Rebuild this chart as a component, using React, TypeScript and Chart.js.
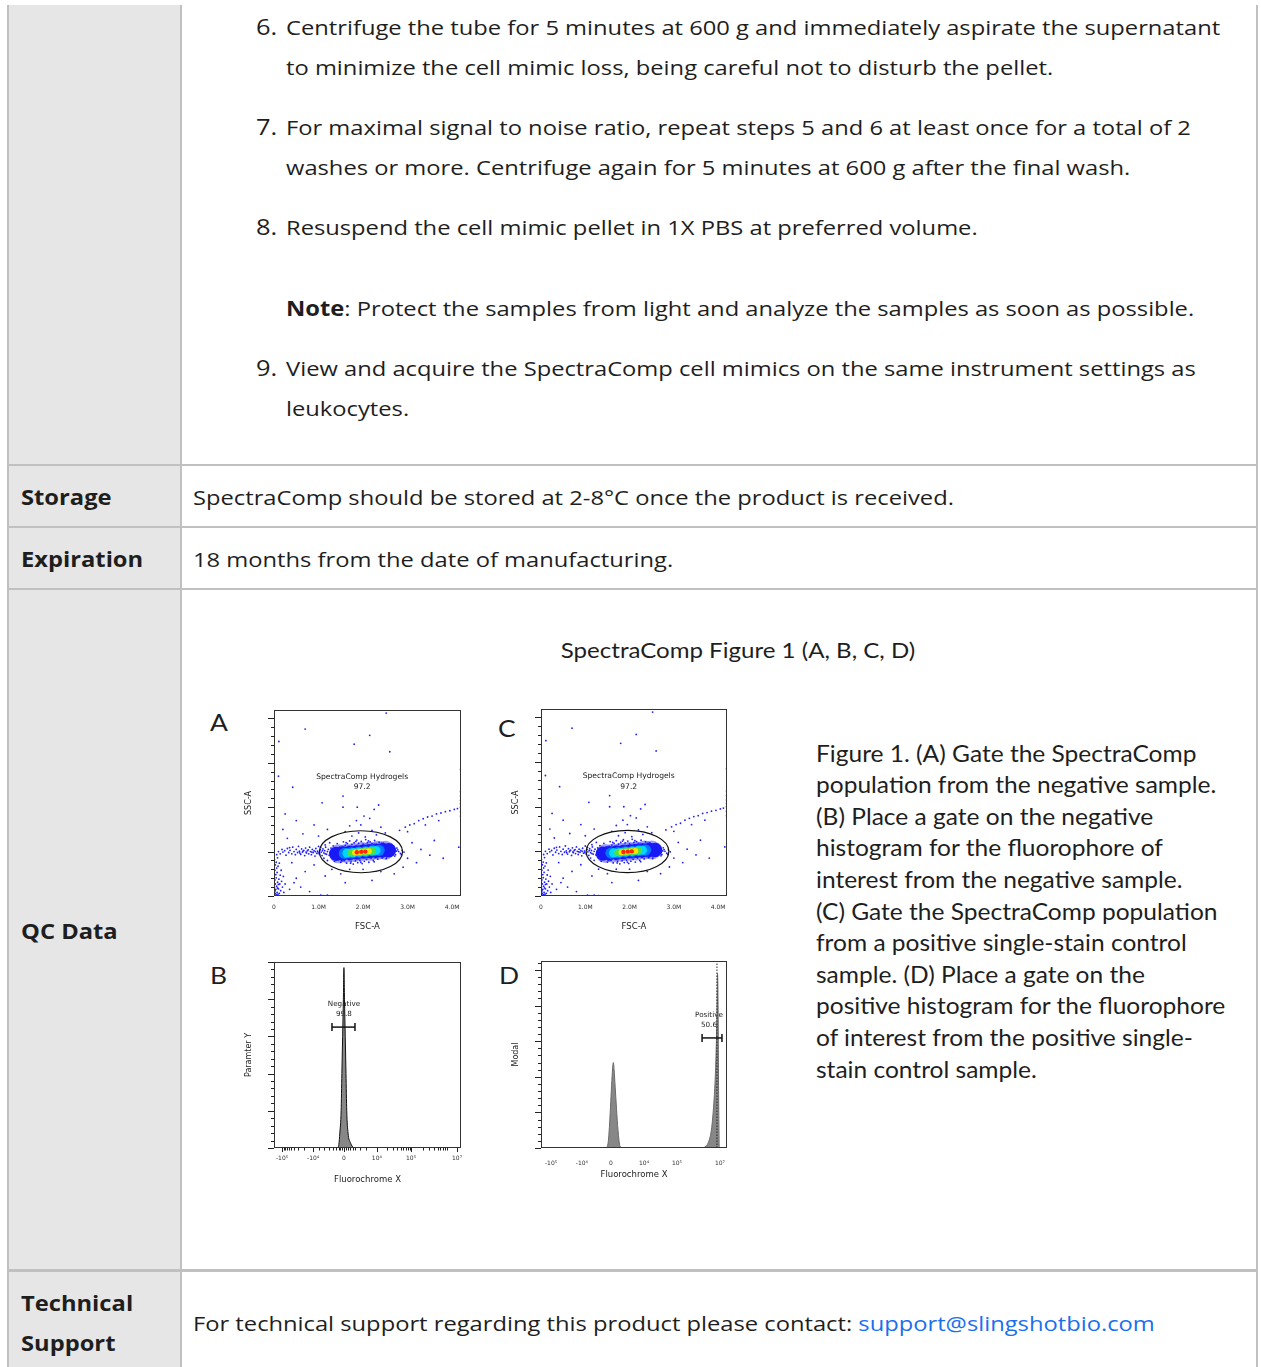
import React, { useEffect, useRef } from "react";
import { Chart, registerables } from "chart.js";
Chart.register(...registerables);

// ---------------- DATA ----------------
// Scatter (FSC-A vs SSC-A), values in millions
const fscTicks = [0, 1, 2, 3, 4];
const fscTickLabels = ["0", "1.0M", "2.0M", "3.0M", "4.0M"];
const sscMajorTicks = [0, 1, 2, 3, 4];
const sscMinorTicks = [0.2, 0.4, 0.6, 0.8, 1.2, 1.4, 1.6, 1.8, 2.2, 2.4, 2.6, 2.8, 3.2, 3.4, 3.6, 3.8];

const streakPts = [[0.01,0.02],[0.03,0.06],[0.02,0.11],[0.05,0.03],[0.07,0.08],[0.04,0.15],[0.01,0.2],[0.06,0.22],[0.09,0.04],[0.03,0.27],[0.08,0.31],[0.02,0.36],[0.05,0.41],[0.1,0.16],[0.12,0.06],[0.04,0.48],[0.07,0.53],[0.02,0.58],[0.11,0.38],[0.06,0.63],[0.13,0.27],[0.03,0.7],[0.09,0.67],[0.15,0.12],[0.05,0.76],[0.14,0.47],[0.17,0.33],[0.01,0.82],[0.12,0.74],[0.19,0.2],[0.08,0.86],[0.16,0.58],[0.22,0.08],[0.21,0.44],[0.25,0.27],[0.06,0.93],[0.02,0.13],[0.04,0.01],[0.08,0.18],[0.1,0.26]];
const tailPts = [[0.1,1.0],[0.14,0.95],[0.18,1.05],[0.2,0.99],[0.24,1.02],[0.27,0.92],[0.3,1.07],[0.33,0.98],[0.36,1.03],[0.4,0.95],[0.42,1.1],[0.45,1.0],[0.48,0.93],[0.5,1.05],[0.53,0.98],[0.55,1.12],[0.57,1.01],[0.6,0.94],[0.62,1.06],[0.64,0.99],[0.67,1.03],[0.69,0.91],[0.71,1.08],[0.73,0.97],[0.75,1.02],[0.78,0.95],[0.8,1.1],[0.82,1.0],[0.84,0.93],[0.86,1.05],[0.88,0.98],[0.9,1.02],[0.92,0.9],[0.94,1.07],[0.96,0.96],[0.98,1.01],[1.0,1.12],[1.02,0.94],[1.04,1.04],[1.06,0.99],[1.08,0.91],[1.1,1.06],[1.12,0.97],[1.14,1.02],[1.16,1.1],[1.18,0.94],[1.2,1.0],[1.22,1.05],[1.24,0.92],[1.26,0.98],[1.28,1.08],[1.3,1.01],[0.58,0.97],[0.77,1.04],[0.85,0.99],[0.99,0.97],[1.05,1.09],[1.15,0.95],[0.65,1.01],[0.35,1.09],[0.93,1.0],[1.09,1.02],[0.72,0.99],[1.27,0.95]];
const haloPts = [[1.12,0.85],[1.15,1.15],[1.2,0.8],[1.25,1.2],[1.3,0.86],[1.33,1.13],[1.36,0.78],[1.38,1.04],[1.4,0.9],[1.42,1.18],[1.45,0.83],[1.47,1.1],[1.5,0.76],[1.52,1.06],[1.54,0.87],[1.56,1.22],[1.58,0.8],[1.6,1.14],[1.63,0.74],[1.65,1.18],[1.68,0.82],[1.7,1.24],[1.73,0.77],[1.75,1.16],[1.78,0.72],[1.8,1.2],[1.83,0.79],[1.86,1.26],[1.88,0.75],[1.9,1.19],[1.93,0.8],[1.96,1.23],[1.98,0.73],[2.0,1.17],[2.03,0.78],[2.06,1.27],[2.08,0.82],[2.1,1.2],[2.13,0.76],[2.16,1.22],[2.18,0.85],[2.2,1.18],[2.23,0.8],[2.26,1.25],[2.28,0.87],[2.3,1.16],[2.33,0.83],[2.36,1.21],[2.38,0.9],[2.4,1.14],[2.43,0.86],[2.46,1.19],[2.48,0.92],[2.5,1.12],[2.53,0.88],[2.56,1.16],[2.58,0.95],[2.6,1.09],[2.63,0.9],[2.66,1.13],[2.68,0.98],[2.7,1.05],[2.73,0.93],[2.76,1.08],[2.8,1.0],[2.84,0.96],[2.88,1.03],[2.92,0.99],[1.35,0.97],[1.43,1.0],[2.65,1.0],[2.75,1.01],[1.48,0.95],[2.55,1.02],[1.4,1.08],[1.52,0.8],[1.62,1.2],[1.72,0.74],[1.84,1.23],[1.95,0.76],[2.12,1.24],[2.25,0.77],[2.42,1.18],[2.52,0.84],[2.62,1.12],[2.71,0.9],[1.32,0.93],[1.37,1.09],[2.78,1.04],[2.86,0.93]];
const sparsePts = [[1.75,1.35],[1.9,1.42],[2.05,1.33],[2.2,1.48],[1.95,1.6],[2.15,1.75],[1.85,1.7],[2.3,1.38],[2.4,1.55],[1.6,1.45],[2.02,1.8],[1.7,1.58],[2.5,1.42],[2.25,1.95],[1.55,2.0],[2.35,2.05],[1.08,2.1],[1.55,2.25],[1.87,2.0],[0.42,2.45],[0.1,2.7],[2.6,3.25],[1.8,3.42],[2.15,3.62],[2.52,4.12],[0.7,3.76],[0.11,3.48],[4.19,2.85],[0.9,1.6],[0.5,1.7],[0.3,1.3],[0.65,1.4],[1.2,1.5],[0.25,1.85],[1.0,1.35],[3.1,1.2],[3.3,1.05],[3.5,0.92],[3.0,0.85],[3.2,0.75],[2.9,0.65],[3.8,0.85],[4.15,1.1],[2.7,0.5],[2.4,0.55],[2.0,0.6],[1.7,0.6],[1.5,0.5],[1.3,0.6],[1.15,0.45],[0.9,0.7],[0.7,0.55],[0.5,0.4],[0.4,0.75],[0.35,0.15],[0.6,0.2],[0.8,0.1],[1.05,0.02],[1.1,0.01],[1.2,0.02],[1.3,0.01],[0.45,0.3],[2.2,0.35],[1.6,0.3],[0.2,1.5],[3.6,1.25]];
const rightStreakPts = [[2.82,1.48],[2.95,1.55],[3.05,1.6],[3.15,1.63],[3.25,1.7],[3.35,1.74],[3.45,1.78],[3.55,1.8],[3.65,1.85],[3.75,1.87],[3.85,1.9],[3.95,1.92],[4.05,1.95],[4.12,1.97],[4.19,1.9],[4.19,2.0],[4.19,2.08],[4.19,2.15],[4.19,2.25],[4.19,2.35],[4.19,1.8],[3.0,1.45],[3.4,1.6],[3.7,1.7]];
// density core levels (blue -> red)
const coreBlueOuter = [[1.45,0.95],[1.62,0.96],[1.8,0.98],[1.98,1.0],[2.16,1.01],[2.34,1.03],[2.5,1.03]];
const coreBlue = [[1.4,0.95],[1.55,0.96],[1.7,0.97],[1.85,0.98],[2.0,1.0],[2.15,1.01],[2.3,1.02],[2.45,1.03],[2.58,1.03]];
const coreLightBlue = [[1.58,0.96],[1.74,0.97],[1.9,0.99],[2.06,1.0],[2.22,1.02],[2.36,1.03]];
const coreCyan = [[1.64,0.965],[1.78,0.975],[1.92,0.99],[2.06,1.0],[2.19,1.015],[2.29,1.025]];
const coreGreen = [[1.74,0.975],[1.86,0.985],[1.98,0.995],[2.1,1.005],[2.2,1.015]];
const coreYellow = [[1.82,0.98],[1.93,0.99],[2.04,1.0],[2.13,1.01]];
const coreRed = [[1.86,0.985],[1.96,0.995],[2.05,1.0]];
const gateCenter = [1.953, 0.997];
const gateRadii = [0.934, 0.473];
const gateTextScatter = ["SpectraComp Hydrogels", "97.2"];
const gateTextScatterPos = [[1.98, 2.68], [1.98, 2.45]];

// Histograms: x in display units of the biexponential axis (0..100), y in % of max
const fluoroTicks = [4.3, 20.9, 37.4, 55.0, 73.3, 97.9];
const fluoroTicksD = [5.4, 22.0, 37.6, 55.4, 73.1, 96.2];
const fluoroTickLabels = ["-10\u2075", "-10\u2074", "0", "10\u2074", "10\u2075", "10\u2077"];
const fluoroMinorB = [5.1, 5.9, 6.9, 8.0, 9.3, 10.9, 13.0, 15.9, 24, 27, 29.5, 31.5, 33, 34.5, 35.5, 36.5, 38.5, 39.5, 40.5, 42, 43.5, 46, 49, 60.5, 63.7, 66.0, 67.8, 69.2, 70.5, 71.5, 72.5, 79.5, 83, 85.5, 87.5, 89, 90.5, 91.5, 92.5];
const pctMajorTicks = [0, 20, 40, 60, 80, 100];
const pctMinorTicks = [4, 8, 12, 16, 24, 28, 32, 36, 44, 48, 52, 56, 64, 68, 72, 76, 84, 88, 92, 96];
const pctMinorTicksD = [4, 8, 12, 16, 24, 28, 32, 36, 44, 48, 52, 56, 64, 68, 72, 76, 84, 88, 92, 96, 104];

const histBx = [31, 33.8, 34.7, 35.2, 35.9, 36.3, 36.7, 37.1, 37.4, 37.7, 38.1, 38.5, 38.9, 39.6, 40.8, 43.3, 47];
const histBy = [0, 0, 2, 8, 20, 40, 60, 80, 97, 80, 60, 40, 20, 8, 3, 0, 0];
const gateB = [[31.0, 65], [43.3, 65]];
const gateTextB = ["Negative", "99.8"];
const gateTextBPos = [[37.4, 77.4], [37.4, 72.0]];

const histD1x = [34.5, 35.7, 36.3, 36.9, 37.5, 38.1, 38.6, 38.9, 39.3, 39.9, 40.6, 41.4, 42.5, 44];
const histD1y = [0, 1, 5, 14, 26, 38, 46, 48, 44, 34, 22, 10, 1, 0];
const histD2x = [86, 88.7, 90.3, 91.6, 92.4, 93.1, 93.7, 94.2, 94.6, 94.9, 95.2, 95.5, 95.9, 97];
const histD2y = [0, 1, 4, 10, 18, 28, 40, 56, 75, 98, 80, 30, 0, 0];
const dottedD = [[94.6, 0], [94.6, 105]];
const gateD = [[86.6, 61.8], [97.3, 61.8]];
const gateTextD = ["Positive", "50.6"];
const gateTextDPos = [[90.3, 74.7], [90.3, 69.1]];

// ---------------- CHART HELPERS ----------------
const TICK_FONT = "DejaVu Sans";
const pts = (a: number[][]) => a.map(([x, y]) => ({ x, y }));
const zipPts = (xs: number[], ys: number[]) => xs.map((x, i) => ({ x, y: ys[i] }));

const flowPlugin = {
  id: "flow",
  beforeDatasetsDraw(chart: any) {
    const o = chart.options.plugins.flow;
    if (!o || !o.notes) return;
    const { ctx } = chart;
    const xs = chart.scales.x, ys = chart.scales.y;
    ctx.save();
    ctx.fillStyle = "#222";
    ctx.textAlign = "center";
    ctx.textBaseline = "middle";
    ctx.font = `${o.noteSize}px "${TICK_FONT}"`;
    o.notes.forEach((t: string, i: number) => {
      const [vx, vy] = o.notePos[i];
      ctx.fillText(t, xs.getPixelForValue(vx), ys.getPixelForValue(vy));
    });
    ctx.restore();
  },
  afterDatasetsDraw(chart: any) {
    const o = chart.options.plugins.flow;
    if (!o) return;
    const { ctx, chartArea: a } = chart;
    const xs = chart.scales.x, ys = chart.scales.y;
    ctx.save();
    if (o.ellipse) {
      const [cx, cy] = o.ellipse.c;
      const [rx, ry] = o.ellipse.r;
      const px = xs.getPixelForValue(cx), py = ys.getPixelForValue(cy);
      const prx = Math.abs(xs.getPixelForValue(cx + rx) - px);
      const pry = Math.abs(ys.getPixelForValue(cy + ry) - py);
      ctx.beginPath();
      ctx.ellipse(px, py, prx, pry, 0, 0, Math.PI * 2);
      ctx.strokeStyle = "#111";
      ctx.lineWidth = 1.2;
      ctx.stroke();
    }
    ctx.strokeStyle = "#333";
    ctx.lineWidth = 1;
    ctx.strokeRect(Math.round(a.left) + 0.5, Math.round(a.top) + 0.5, Math.round(a.right - a.left) - 1, Math.round(a.bottom - a.top) - 1);
    const yTick = (vals: number[], len: number) => vals.forEach((v) => {
      const p = Math.round(ys.getPixelForValue(v)) + 0.5;
      ctx.beginPath(); ctx.moveTo(a.left - len, p); ctx.lineTo(a.left, p); ctx.stroke();
    });
    const xTick = (vals: number[], len: number) => vals.forEach((v) => {
      const p = Math.round(xs.getPixelForValue(v)) + 0.5;
      ctx.beginPath(); ctx.moveTo(p, a.bottom); ctx.lineTo(p, a.bottom + len); ctx.stroke();
    });
    ctx.strokeStyle = "#222";
    if (o.yMajor) yTick(o.yMajor, 6);
    if (o.yMinor) yTick(o.yMinor, 3);
    if (o.xMajor) xTick(o.xMajor, 4);
    if (o.xMinor) xTick(o.xMinor, 2.5);
    ctx.restore();
  },
};

function axisX(min: number, max: number, ticks: number[], labels: string[], title: string, h: number, labelPad: number, titlePad: number) {
  return {
    type: "linear", min, max,
    afterBuildTicks: (s: any) => { s.ticks = ticks.map((v) => ({ value: v })); },
    afterFit: (s: any) => { s.height = h; },
    ticks: { callback: (_v: any, i: number) => labels[i], font: { family: TICK_FONT, size: 6 }, color: "#333", padding: labelPad, autoSkip: false, maxRotation: 0, minRotation: 0 },
    grid: { display: false, drawTicks: false },
    border: { display: false },
    title: { display: true, text: title, font: { family: TICK_FONT, size: 8.5 }, color: "#222", padding: { top: 0, bottom: titlePad } },
  };
}
function axisY(min: number, max: number, title: string, w: number, titlePad: number) {
  return {
    type: "linear", min, max,
    afterFit: (s: any) => { s.width = w; },
    ticks: { display: false },
    grid: { display: false, drawTicks: false },
    border: { display: false },
    title: { display: true, text: title, font: { family: TICK_FONT, size: 8 }, color: "#222", padding: { top: titlePad, bottom: 0 } },
  };
}

const baseOpts = { animation: false, responsive: false, maintainAspectRatio: false, events: [] as any[] };
const dot = (data: number[][], color: string, r: number) => ({ data: pts(data), pointRadius: r, pointBackgroundColor: color, backgroundColor: color, borderWidth: 0, pointBorderWidth: 0 });

function scatterConfig(): any {
  const blue = "rgb(30,30,255)";
  // Chart.js draws the first dataset on top: hottest density level first.
  return {
    type: "scatter",
    data: {
      datasets: [
        dot(coreRed, "rgb(255,40,0)", 2.2), dot(coreYellow, "rgb(255,225,0)", 3.0), dot(coreGreen, "rgb(80,225,60)", 3.8),
        dot(coreCyan, "rgb(0,215,255)", 4.6), dot(coreLightBlue, "rgb(0,120,255)", 5.6), dot(coreBlue, "rgb(25,25,245)", 7.2),
        dot(streakPts, blue, 0.9), dot(tailPts, blue, 0.9), dot(haloPts, blue, 0.9), dot(sparsePts, blue, 0.9), dot(rightStreakPts, blue, 0.9),
        dot(coreBlueOuter, "rgba(40,40,255,0.45)", 9.5),
      ],
    },
    options: {
      ...baseOpts,
      layout: { padding: { left: 0, right: 15, top: 10, bottom: 0 } },
      plugins: {
        legend: { display: false }, tooltip: { enabled: false },
        flow: { yMajor: sscMajorTicks, yMinor: sscMinorTicks, ellipse: { c: gateCenter, r: gateRadii }, notes: gateTextScatter, notePos: gateTextScatterPos, noteSize: 7.6 },
      },
      scales: { x: axisX(0, 4.2, fscTicks, fscTickLabels, "FSC-A", 49, 8, 13), y: axisY(0, 4.19, "SSC-A", 38, 8) },
    },
    plugins: [flowPlugin],
  };
}

const gateLine = (data: number[][]) => ({ type: "line", data: pts(data), borderColor: "#111", borderWidth: 1.5, pointStyle: "line", rotation: 90, pointRadius: 4, pointBorderColor: "#111", pointBorderWidth: 1.5, fill: false });

function histBConfig(): any {
  return {
    type: "line",
    data: {
      datasets: [
        gateLine(gateB),
        { data: zipPts(histBx, histBy), borderColor: "#111", borderWidth: 1, backgroundColor: "#878787", fill: "origin", pointRadius: 0, cubicInterpolationMode: "monotone" },
      ],
    },
    options: {
      ...baseOpts,
      layout: { padding: { left: 0, right: 15, top: 10, bottom: 0 } },
      plugins: {
        legend: { display: false }, tooltip: { enabled: false },
        flow: { yMajor: pctMajorTicks, yMinor: pctMinorTicks, xMajor: fluoroTicks, xMinor: fluoroMinorB, notes: gateTextB, notePos: gateTextBPos, noteSize: 7.2 },
      },
      scales: { x: axisX(0, 100, fluoroTicks, fluoroTickLabels, "Fluorochrome X", 47, 7, 10), y: axisY(0, 100, "Paramter Y", 38, 8) },
    },
    plugins: [flowPlugin],
  };
}

function histDConfig(): any {
  return {
    type: "line",
    data: {
      datasets: [
        gateLine(gateD),
        { data: pts(dottedD), borderColor: "#222", borderWidth: 1, borderDash: [1.5, 1.5], pointRadius: 0, fill: false },
        { data: zipPts(histD2x, histD2y), borderColor: "#6a6a6a", borderWidth: 1, backgroundColor: "#878787", fill: "origin", pointRadius: 0, cubicInterpolationMode: "monotone" },
        { data: zipPts(histD1x, histD1y), borderColor: "#6a6a6a", borderWidth: 1, backgroundColor: "#878787", fill: "origin", pointRadius: 0, cubicInterpolationMode: "monotone" },
      ],
    },
    options: {
      ...baseOpts,
      layout: { padding: { left: 0, right: 15, top: 10, bottom: 0 } },
      plugins: {
        legend: { display: false }, tooltip: { enabled: false },
        flow: { yMajor: pctMajorTicks, yMinor: pctMinorTicksD, notes: gateTextD, notePos: gateTextDPos, noteSize: 7.2 },
      },
      scales: { x: axisX(0, 100, fluoroTicksD, fluoroTickLabels, "Fluorochrome X", 42, 12, 10), y: axisY(0, 105, "Modal", 38, 8) },
    },
    plugins: [flowPlugin],
  };
}

function FlowChart({ make, left, top, width, height }: { make: () => any; left: number; top: number; width: number; height: number }) {
  const ref = useRef<HTMLCanvasElement>(null);
  useEffect(() => {
    const chart = new Chart(ref.current as HTMLCanvasElement, make());
    return () => chart.destroy();
  }, []);
  return <canvas ref={ref} width={width} height={height} style={{ position: "absolute", left, top, width, height }} />;
}

// ---------------- PAGE ----------------
const BODY = '"Open Sans", sans-serif';
const FIG = 'Lato, sans-serif';
const TXT = "#1e1e1e";
const BORDER = "#c0c0c0";

function T({ x, y, s, w = 400, f = BODY, c = TXT, center = false, k = 1, children }: any) {
  const h = Math.round(s * 2);
  return (
    <div style={{ position: "absolute", left: center ? x - 600 : x, width: center ? 1200 : undefined, textAlign: center ? "center" : "left", top: y - h / 2, height: h, lineHeight: `${h}px`, fontSize: s, fontWeight: w, fontFamily: f, color: c, whiteSpace: "nowrap", transform: `scaleX(${k})`, transformOrigin: center ? "center center" : "left center" }}>
      {children}
    </div>
  );
}

const captionLines = [
  "Figure 1. (A) Gate the SpectraComp",
  "population from the negative sample.",
  "(B) Place a gate on the negative",
  "histogram for the fluorophore of",
  "interest from the negative sample.",
  "(C) Gate the SpectraComp population",
  "from a positive single-stain control",
  "sample. (D) Place a gate on the",
  "positive histogram for the fluorophore",
  "of interest from the positive single-",
  "stain control sample.",
];

export default function App() {
  const S = 20.5; // body text size
  const K = 1.157; // horizontal stretch of the source page
  const N = 22; // list number size
  const box = (l: number, t: number, w: number, h: number, bg: string) => (
    <div style={{ position: "absolute", left: l, top: t, width: w, height: h, background: bg }} />
  );
  return (
    <div style={{ position: "relative", width: 1261, height: 1367, background: "#fff", overflow: "hidden" }}>
      <style>{`body{margin:0;}`}</style>
      {box(9, 5, 171, 1362, "#e6e6e6")}
      {box(7, 5, 2, 1362, BORDER)}
      {box(180, 5, 2, 1362, BORDER)}
      {box(1256, 5, 2, 1362, BORDER)}
      {box(7, 464, 1251, 2, BORDER)}
      {box(7, 526, 1251, 2, BORDER)}
      {box(7, 588, 1251, 2, BORDER)}
      {box(7, 1269, 1251, 3, BORDER)}

      <T x={256} y={26} s={N} k={K}>6.</T>
      <T x={286} y={27} s={S} k={K}>Centrifuge the tube for 5 minutes at 600 g and immediately aspirate the supernatant</T>
      <T x={286} y={67} s={S} k={K}>to minimize the cell mimic loss, being careful not to disturb the pellet.</T>
      <T x={256} y={126} s={N} k={K}>7.</T>
      <T x={286} y={127} s={S} k={K}>For maximal signal to noise ratio, repeat steps 5 and 6 at least once for a total of 2</T>
      <T x={286} y={167} s={S} k={K}>washes or more. Centrifuge again for 5 minutes at 600 g after the final wash.</T>
      <T x={256} y={226} s={N} k={K}>8.</T>
      <T x={286} y={227} s={S} k={K}>Resuspend the cell mimic pellet in 1X PBS at preferred volume.</T>
      <T x={286} y={308} s={S} k={K}><b>Note</b>: Protect the samples from light and analyze the samples as soon as possible.</T>
      <T x={256} y={367} s={N} k={K}>9.</T>
      <T x={286} y={368} s={S} k={K}>View and acquire the SpectraComp cell mimics on the same instrument settings as</T>
      <T x={286} y={408} s={S} k={K}>leukocytes.</T>

      <T x={21} y={497} s={S} w={700} k={K}>Storage</T>
      <T x={193} y={497} s={S} k={K}>SpectraComp should be stored at 2-8°C once the product is received.</T>
      <T x={21} y={559} s={S} w={700} k={K}>Expiration</T>
      <T x={193} y={559} s={S} k={K}>18 months from the date of manufacturing.</T>
      <T x={21} y={931} s={S} w={700} k={K}>QC Data</T>
      <T x={21} y={1303} s={S} w={700} k={K}>Technical</T>
      <T x={21} y={1343} s={S} w={700} k={K}>Support</T>
      <T x={193} y={1323} s={S} k={K}>For technical support regarding this product please contact: <span style={{ color: "#1a6ff0" }}>support@slingshotbio.com</span></T>

      <T x={738} y={650} s={21.5} f={FIG} k={1.12} center>SpectraComp Figure 1 (A, B, C, D)</T>
      {captionLines.map((l, i) => (
        <T key={i} x={816} y={753 + i * 31.6} s={22.5} f={FIG} k={1.09}>{l}</T>
      ))}
      <T x={210} y={722} s={24} f={FIG} k={1.1}>A</T>
      <T x={498} y={728} s={24} f={FIG} k={1.1}>C</T>
      <T x={210} y={975} s={24} f={FIG} k={1.1}>B</T>
      <T x={499} y={975} s={24} f={FIG} k={1.1}>D</T>

      <FlowChart make={scatterConfig} left={236} top={700} width={240} height={245} />
      <FlowChart make={scatterConfig} left={503} top={699} width={239} height={246} />
      <FlowChart make={histBConfig} left={236} top={952} width={240} height={243} />
      <FlowChart make={histDConfig} left={503} top={951} width={239} height={239} />
    </div>
  );
}
